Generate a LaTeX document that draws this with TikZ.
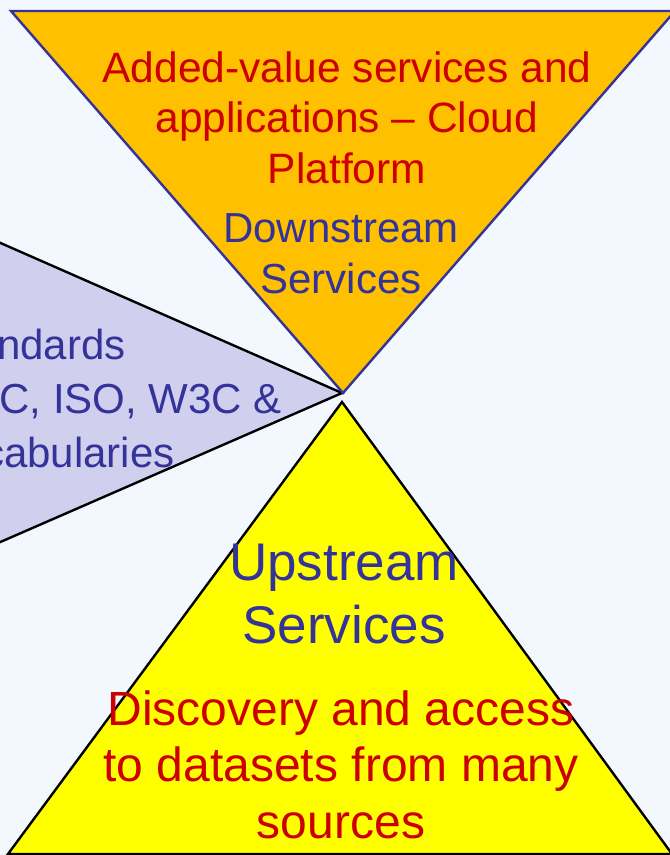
\documentclass[tikz,border=0pt]{standalone}
\usepackage{fontspec}
\setmainfont{Liberation Sans}
\definecolor{bgc}{RGB}{243,247,254}
\definecolor{lav}{RGB}{208,208,238}
\definecolor{topfill}{RGB}{255,192,0}
\definecolor{navy}{RGB}{51,51,153}
\definecolor{darkred}{RGB}{204,0,0}
\definecolor{yel}{RGB}{255,255,0}
\begin{document}
\begin{tikzpicture}[x=1pt,y=-1pt,
  redtxt/.style={text=darkred,align=center,inner sep=0pt},
  bluetxt/.style={text=navy,align=center,inner sep=0pt},
  tri/.style={line width=2.4pt,line join=miter}]
\useasboundingbox (0,0) rectangle (670,855);
\fill[bgc] (0,0) rectangle (670,855);
\begin{scope}
\clip (0,0) rectangle (670,855);
% left triangle (standards)
\coordinate (lA) at (342,393);
\coordinate (lT) at (-300,111);
\coordinate (lB) at (-300,673);
\filldraw[tri,fill=lav,draw=black] (lT) -- (lA) -- (lB) -- cycle;
% top triangle (downstream)
\coordinate (tL) at (11,11);
\coordinate (tR) at (675,11);
\coordinate (tA) at (343,393);
\filldraw[tri,fill=topfill,draw=navy] (tL) -- (tR) -- (tA) -- cycle;
% bottom triangle (upstream)
\coordinate (bA) at (342,402);
\coordinate (bL) at (8,854);
\coordinate (bR) at (672,854);
\filldraw[tri,fill=yel,draw=black] (bA) -- (bR) -- (bL) -- cycle;
% texts
\node[bluetxt,align=left,anchor=base west,font=\fontsize{42}{54}\selectfont] (std) at (-66,467)
  {Standards\\OGC, ISO, W3C \&\\Vocabularies};
\end{scope}
\node[redtxt,anchor=base,font=\fontsize{42.5}{50.5}\selectfont] (added) at (347,183)
  {Added-value services and\\applications -- Cloud\\Platform};
\node[bluetxt,anchor=base,font=\fontsize{42}{51}\selectfont] (down) at (341,293)
  {Downstream\\Services};
\node[bluetxt,anchor=base,font=\fontsize{53}{63}\selectfont] (up) at (344,643)
  {Upstream\\Services};
\node[redtxt,anchor=base,font=\fontsize{48}{56.5}\selectfont] (disc) at (341,838)
  {Discovery and access\\to datasets from many\\sources};
\end{tikzpicture}
\end{document}
